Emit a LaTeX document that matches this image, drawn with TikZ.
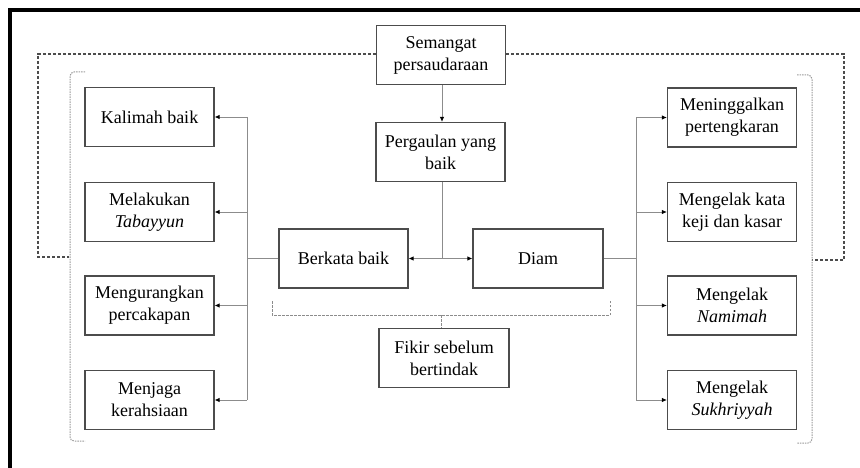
\documentclass[tikz,border=0pt]{standalone}
\usepackage{fontspec}
\setmainfont{Liberation Serif}
\usetikzlibrary{arrows.meta}
\begin{document}
\begin{tikzpicture}[x=1pt,y=-1pt,
  box/.style={draw=black!70,line width=1.2pt,minimum width=129pt,minimum height=59pt,
    align=center,inner sep=2pt,font=\fontsize{18}{22}\selectfont},
  conn/.style={draw=black!45,line width=0.9pt},
  arr/.style={conn,-{Latex[length=5pt,width=4.5pt,black]}},
  outerdash/.style={draw=black!70,line width=1.1pt,dash pattern=on 3pt off 2pt},
  bracket/.style={draw=black!40,line width=1pt,dash pattern=on 1.5pt off 1pt,rounded corners=4pt},
  bracedash/.style={draw=black!45,line width=0.8pt,dash pattern=on 2.5pt off 1.5pt}]
\useasboundingbox (0,0) rectangle (860,468);
% frame
\draw[line width=3.5pt,black] (10,468) -- (10,10) -- (860,10);
% nodes
\node[box] (sem) at (441,55) {Semangat\\persaudaraan};
\node[box] (perg) at (440.5,152) {Pergaulan yang\\baik};
\node[box] (kal) at (149.5,117) {Kalimah baik};
\node[box] (tab) at (149.5,212) {Melakukan\\\textit{Tabayyun}};
\node[box] (meng) at (149.5,305.5) {Mengurangkan\\percakapan};
\node[box] (menj) at (149.5,400) {Menjaga\\kerahsiaan};
\node[box] (berk) at (343.5,258.5) {Berkata baik};
\node[box,minimum width=130pt] (diam) at (538,258.5) {Diam};
\node[box,minimum width=130pt] (fik) at (444,358) {Fikir sebelum\\bertindak};
\node[box] (r1) at (732,117.5) {Meninggalkan\\pertengkaran};
\node[box] (r2) at (732,212) {Mengelak kata\\keji dan kasar};
\node[box] (r3) at (732,305.5) {Mengelak\\\textit{Namimah}};
\node[box] (r4) at (732,400) {Mengelak\\\textit{Sukhriyyah}};
% coordinates
\coordinate (j) at (442,258.5);
\coordinate (lj) at (247,258.5);
\coordinate (rj) at (636,258.5);
\coordinate (ltop) at (247,117);
\coordinate (lbot) at (247,400);
\coordinate (rtop) at (636,117.5);
\coordinate (rbot) at (636,400);
% connectors
\draw[arr] (j |- sem.south) -- (j |- perg.north);
\draw[conn] (j |- perg.south) -- (j);
\draw[arr] (j) -- (berk.east);
\draw[arr] (j) -- (diam.west);
\draw[conn] (berk.west) -- (lj);
\draw[conn] (ltop) -- (lbot);
\draw[arr] (ltop) -- (kal.east);
\draw[arr] (lj |- tab.east) -- (tab.east);
\draw[arr] (lj |- meng.east) -- (meng.east);
\draw[arr] (lbot) -- (menj.east);
\draw[conn] (diam.east) -- (rj);
\draw[conn] (rtop) -- (rbot);
\draw[arr] (rtop) -- (r1.west);
\draw[arr] (rj |- r2.west) -- (r2.west);
\draw[arr] (rj |- r3.west) -- (r3.west);
\draw[arr] (rbot) -- (r4.west);
% outer dashed
\coordinate (dl) at (69,257);
\coordinate (dr) at (812,260);
\draw[outerdash] (sem.west |- 0,54) -- (38,54) -- (38,257) -- (dl);
\draw[outerdash] (sem.east |- 0,54) -- (844,54) -- (844,260) -- (dr);
% brackets
\draw[bracket] (85,72) -- (70,72) -- (70,441) -- (85,441);
\draw[bracket] (797,75) -- (812,75) -- (812,443) -- (797,443);
\coordinate (bt) at (441,315);
\draw[bracedash] (272,301) -- (272,315) -- (610,315) -- (610,301);
\draw[bracedash] (bt) -- (bt |- fik.north);
\end{tikzpicture}
\end{document}
